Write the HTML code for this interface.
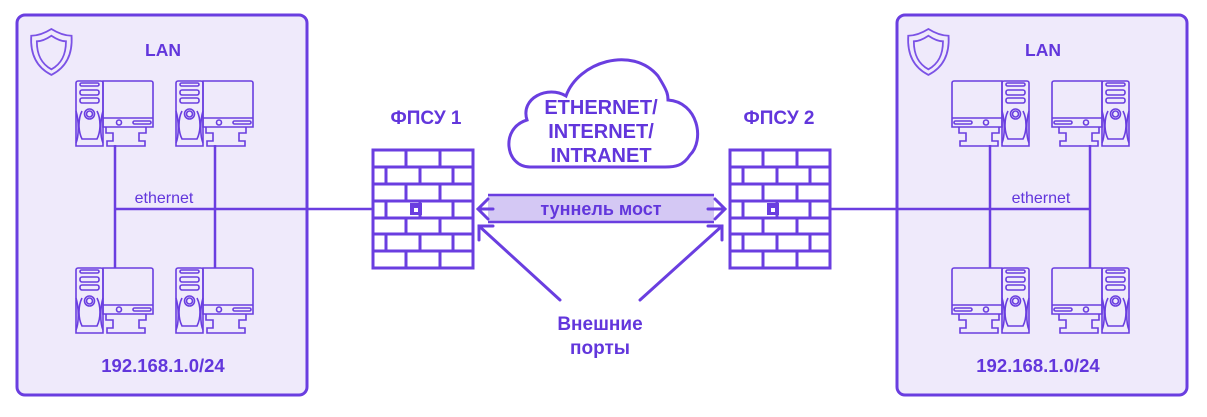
<!DOCTYPE html>
<html><head><meta charset="utf-8"><style>
body{margin:0;background:#fff;}
svg{display:block;}
text{font-family:"Liberation Sans",sans-serif;font-weight:bold;fill:#6236dc;}
</style></head><body>
<svg width="1207" height="417" viewBox="0 0 1207 417" xmlns="http://www.w3.org/2000/svg">
<defs>
<g id="pc" fill="none" stroke="#6a3ee0" stroke-width="1.6">
  <path d="M2,0 H25 a2,2 0 0 1 2,2 V65 H0 V2 a2,2 0 0 1 2,-2Z"/>
  <rect x="4" y="2" width="19" height="3" rx="1.5"/>
  <rect x="4" y="9" width="19" height="5" rx="2"/>
  <rect x="4" y="17" width="19" height="5" rx="2"/>
  <circle cx="13.5" cy="33" r="5"/><circle cx="13.5" cy="33" r="3"/>
  <path d="M6,30 C2,38 2,50 6,58 H21 C25,50 25,38 21,30"/>
  <path d="M0,30 C3,40 3,55 0,62 M27,30 C24,40 24,55 27,62"/>
  <path d="M29,0 H75 a2,2 0 0 1 2,2 V46 H27 V0Z"/>
  <line x1="27" y1="37" x2="77" y2="37"/>
  <circle cx="43" cy="41.5" r="2.5"/>
  <rect x="57" y="40" width="18" height="3" rx="1.5"/>
  <path d="M30,46 V52 H37 V60 H31 V65 H69 V60 H63 V52 H70 V46"/>
</g>
<g id="fw" fill="#fff" stroke="#6a3ee0" stroke-width="3">
  <rect x="0" y="0" width="100" height="118"/>
  <path d="M0,17 H100 M0,34 H100 M0,51 H100 M0,68 H100 M0,84 H100 M0,101 H100" fill="none"/>
  <path d="M33,0 V17 M67,0 V17 M13,17 V34 M47,17 V34 M80,17 V34 M33,34 V51 M67,34 V51 M13,51 V68 M47,51 V68 M80,51 V68 M33,68 V84 M67,68 V84 M13,84 V101 M47,84 V101 M80,84 V101 M33,101 V118 M67,101 V118" fill="none"/>
  <rect x="37" y="53" width="12" height="12" fill="#6a3ee0" stroke="none"/>
  <rect x="41" y="58" width="4" height="4" fill="#fff" stroke="none"/>
</g>
<g id="shield" fill="none" stroke="#7b52e6" stroke-width="1.6">
  <path d="M20,0 C28,5 34,6 38,6 C39,22 34,34 20,41 C6,34 1,22 2,6 C6,6 12,5 20,0Z"/>
  <path d="M20,6 C26,10 30,11 33,11 C33,23 29,31 20,36 C11,31 7,23 7,11 C10,11 14,10 20,6Z"/>
</g>
</defs>
<rect x="17" y="15" width="290" height="380" rx="8" fill="#efeafb" stroke="#6a3ee0" stroke-width="3"/>
<rect x="897" y="15" width="290" height="380" rx="8" fill="#efeafb" stroke="#6a3ee0" stroke-width="3"/>
<g transform="translate(29,29) scale(1.12)"><use href="#shield"/></g>
<g transform="translate(906,29) scale(1.12)"><use href="#shield"/></g>
<text x="163" y="56" font-size="17.5" text-anchor="middle">LAN</text>
<text x="1043" y="56" font-size="17.5" text-anchor="middle">LAN</text>
<text x="163" y="372" font-size="18.5" text-anchor="middle">192.168.1.0/24</text>
<text x="1038" y="372" font-size="18.5" text-anchor="middle">192.168.1.0/24</text>
<g stroke="#6a3ee0" stroke-width="2.5" fill="none">
<line x1="115" y1="145" x2="115" y2="268"/>
<line x1="215" y1="145" x2="215" y2="268"/>
<line x1="115" y1="209" x2="373" y2="209"/>
<line x1="990" y1="145" x2="990" y2="268"/>
<line x1="1090" y1="145" x2="1090" y2="268"/>
<line x1="830" y1="209" x2="1090" y2="209"/>
</g>
<text x="164" y="203" font-size="16" style="font-weight:normal" text-anchor="middle">ethernet</text>
<text x="1041" y="203" font-size="16" style="font-weight:normal" text-anchor="middle">ethernet</text>
<use href="#pc" x="76" y="81"/><use href="#pc" x="176" y="81"/>
<use href="#pc" x="76" y="268"/><use href="#pc" x="176" y="268"/>
<g transform="translate(1029,81) scale(-1,1)"><use href="#pc"/></g>
<g transform="translate(1129,81) scale(-1,1)"><use href="#pc"/></g>
<g transform="translate(1029,268) scale(-1,1)"><use href="#pc"/></g>
<g transform="translate(1129,268) scale(-1,1)"><use href="#pc"/></g>
<use href="#fw" x="373" y="150"/>
<use href="#fw" x="730" y="150"/>
<text x="426" y="124" font-size="19" text-anchor="middle">ФПСУ 1</text>
<text x="779" y="124" font-size="19" text-anchor="middle">ФПСУ 2</text>
<path d="M530,167 C505,167 500,128 527,120 C520,98 548,85 566,96 C578,62 632,45 658,76 C668,92 668,95 668,100 C698,102 705,140 690,155 C683,166 675,167 665,167 Z" fill="#fff" stroke="#6a3ee0" stroke-width="3"/>
<text x="601" y="114" font-size="20" text-anchor="middle">ETHERNET/</text>
<text x="601" y="138" font-size="20" text-anchor="middle">INTERNET/</text>
<text x="601" y="162" font-size="20" text-anchor="middle">INTRANET</text>
<rect x="488" y="195" width="226" height="27" fill="#d4c8f4"/>
<line x1="488" y1="195" x2="714" y2="195" stroke="#6a3ee0" stroke-width="2.5"/>
<line x1="488" y1="222" x2="714" y2="222" stroke="#6a3ee0" stroke-width="2.5"/>
<text x="601" y="215" font-size="18" text-anchor="middle">туннель мост</text>
<g stroke="#6a3ee0" stroke-width="3" fill="none" stroke-linecap="round">
<path d="M493,209 H478 M488,199 L478,209 L488,219"/>
<path d="M708,209 H725 M715,199 L725,209 L715,219"/>
<path d="M560,300 L479,226 M479,240 V226 H493"/>
<path d="M640,300 L722,226 M722,240 V226 H708"/>
</g>
<text x="600" y="330" font-size="19" text-anchor="middle">Внешние</text>
<text x="600" y="354" font-size="19" text-anchor="middle">порты</text>
</svg>
</body></html>
